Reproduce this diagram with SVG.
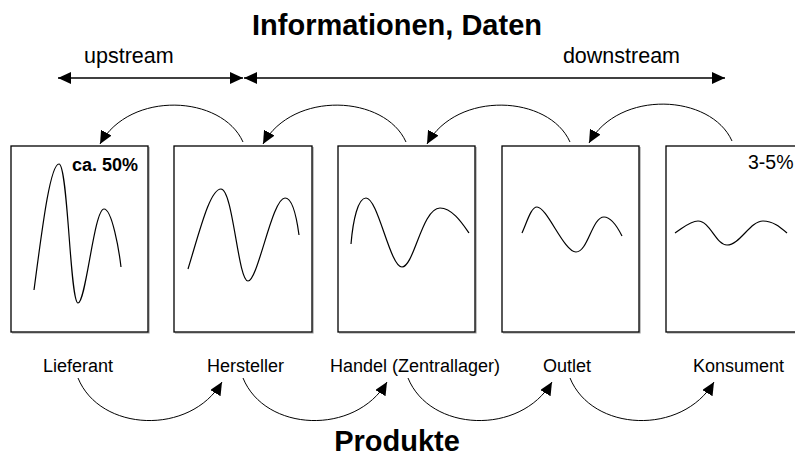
<svg xmlns="http://www.w3.org/2000/svg" width="795" height="457" viewBox="0 0 795 457">
<style>
  .t { font-family: "Liberation Sans", Arial, sans-serif; fill: #000; }
  .title { font-size: 29px; font-weight: bold; text-anchor: middle; }
  .lbl { font-size: 18px; }
  .dir { font-size: 21.5px; }
  .pct { font-size: 19.5px; }
  .box { fill: #fff; stroke: #000; stroke-width: 1.3; }
  .shadow { fill: none; stroke: #999; stroke-width: 1.2; }
  .wave { fill: none; stroke: #000; stroke-width: 1.2; }
  .conn { fill: none; stroke: #000; stroke-width: 1; }
  .hline { fill: none; stroke: #000; stroke-width: 1.6; }
</style>
<defs>
  <marker id="ah" markerUnits="userSpaceOnUse" markerWidth="14" markerHeight="12" viewBox="0 0 14 12" refX="13" refY="6" orient="auto">
    <path d="M0,0 L13,6 L0,12 Z" fill="#000"/>
  </marker>
  <marker id="ahs" markerUnits="userSpaceOnUse" markerWidth="14" markerHeight="12" viewBox="0 0 14 12" refX="13" refY="6" orient="auto-start-reverse">
    <path d="M0,0 L13,6 L0,12 Z" fill="#000"/>
  </marker>
</defs>
<rect width="795" height="457" fill="#fff"/>

<text class="t title" x="397" y="35">Informationen, Daten</text>
<text class="t dir" x="84" y="63">upstream</text>
<text class="t dir" x="680" y="63" text-anchor="end">downstream</text>

<g id="connectors">
  <line class="hline" x1="58" y1="78" x2="243" y2="78" marker-start="url(#ahs)" marker-end="url(#ah)"/>
  <line class="hline" x1="244" y1="78" x2="725" y2="78" marker-start="url(#ahs)" marker-end="url(#ah)"/>
  <path class="conn" d="M243,142 C222,95 130,90 100,144" marker-end="url(#ah)"/>
  <path class="conn" d="M243,142 C222,95 130,90 100,144" transform="translate(163,0)" marker-end="url(#ah)"/>
  <path class="conn" d="M243,142 C222,95 130,90 100,144" transform="translate(327,0)" marker-end="url(#ah)"/>
  <path class="conn" d="M243,142 C222,95 130,90 100,144" transform="translate(489,-1)" marker-end="url(#ah)"/>
  <path class="conn" d="M78,378 C100,432 190,436 222,382" marker-end="url(#ah)"/>
  <path class="conn" d="M78,378 C100,432 190,436 222,382" transform="translate(165,0)" marker-end="url(#ah)"/>
  <path class="conn" d="M78,378 C100,432 190,436 222,382" transform="translate(330,0)" marker-end="url(#ah)"/>
  <path class="conn" d="M78,378 C100,432 190,436 222,382" transform="translate(492,0)" marker-end="url(#ah)"/>
</g>

<g id="lieferant">
  <polyline class="shadow" points="12,333 149,333 149,147"/>
  <rect class="box" x="11" y="146" width="137" height="186"/>
  <path class="wave" d="M34,290 C42,230 50,164 59,164 C68,164 70,303 78,303 C86,303 94,209 104,209 C112,209 119,250 121,267"/>
  <text class="t lbl" x="72" y="171" font-weight="bold">ca. 50%</text>
  <text class="t lbl" x="43" y="372">Lieferant</text>
</g>
<g id="hersteller">
  <polyline class="shadow" points="175,333 313,333 313,147"/>
  <rect class="box" x="174" y="146" width="138" height="186"/>
  <path class="wave" d="M188,269 C200,230 210,189 221,189 C233,189 238,281 248,281 C258,281 272,198 285,198 C293,198 297,220 299,235"/>
  <text class="t lbl" x="207" y="372">Hersteller</text>
</g>
<g id="handel">
  <polyline class="shadow" points="339,333 476,333 476,147"/>
  <rect class="box" x="338" y="146" width="137" height="186"/>
  <path class="wave" d="M351,244 C353,220 358,198 366,198 C378,198 390,267 402,267 C414,267 422,208 440,208 C452,208 462,223 469,233"/>
  <text class="t lbl" x="330" y="372">Handel (Zentrallager)</text>
</g>
<g id="outlet">
  <polyline class="shadow" points="503,333 640,333 640,147"/>
  <rect class="box" x="502" y="146" width="137" height="186"/>
  <path class="wave" d="M522,233 C527,222 531,207 537,207 C547,207 564,252 576,252 C588,252 592,217 604,217 C612,217 618,228 622,236"/>
  <text class="t lbl" x="543" y="372">Outlet</text>
</g>
<g id="konsument">
  <polyline class="shadow" points="667,333 804,333"/>
  <rect class="box" x="666" y="146" width="137" height="186"/>
  <path class="wave" d="M675,233 C683,228 690,221 698,221 C710,221 716,245 727,245 C740,245 750,221 763,221 C773,221 780,227 787,233"/>
  <text class="t pct" x="748" y="169">3-5%</text>
  <text class="t lbl" x="693" y="372">Konsument</text>
</g>

<text class="t title" x="397" y="451">Produkte</text>
</svg>
